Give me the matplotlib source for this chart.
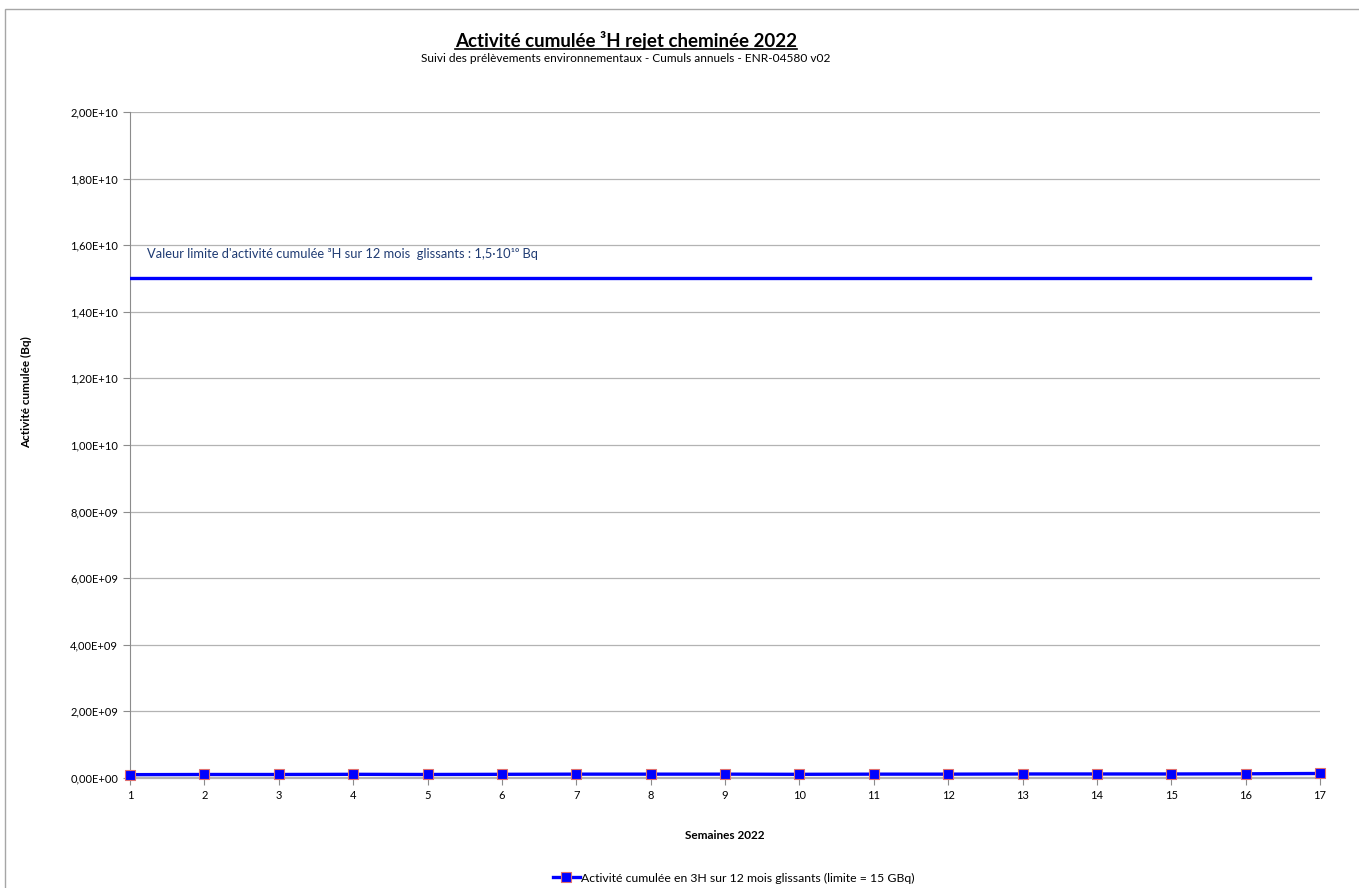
import numpy as np
import matplotlib.pyplot as plt
from matplotlib.lines import Line2D
from matplotlib.patches import Rectangle
from matplotlib.ticker import FuncFormatter

plt.rcParams['font.family'] = ['Lato', 'DejaVu Sans']

weeks = list(range(1, 18))
cumul = [1.00e8, 1.05e8, 1.05e8, 1.10e8, 1.05e8, 1.10e8, 1.15e8, 1.15e8, 1.15e8,
         1.10e8, 1.15e8, 1.15e8, 1.20e8, 1.20e8, 1.20e8, 1.25e8, 1.35e8]
limit = 1.5e10
y_ticks = np.arange(0, 2.01e10, 2e9)


def sci_fr(v, pos):
    s = f"{v:.2E}"
    mant, exp = s.split("E")
    return f"{mant.replace('.', ',')}E{exp[0]}{int(exp[1:]):02d}"


fig = plt.figure(figsize=(13.59, 8.88), dpi=100)
ax = fig.add_axes([0.0957, 0.1239, 0.8756, 0.75])

ax.axhline(limit, xmin=0, xmax=0.992, color='#0000FF', lw=2.4, zorder=3)
ax.text(1.23, 1.555e10, "Valeur limite d'activité cumulée ³H sur 12 mois  glissants : 1,5·10¹⁰ Bq",
        color='#1F3B73', fontsize=9.3, va='bottom', ha='left')

ax.plot(weeks, cumul, color='#0000FF', lw=2.4, marker='s', markersize=7,
        markerfacecolor='#0000FF', markeredgecolor='#E07070', markeredgewidth=0.8,
        clip_on=False, zorder=4, label='Activité cumulée en 3H sur 12 mois glissants (limite = 15 GBq)')

ax.set_xlim(1, 17)
ax.set_ylim(0, 2e10)
ax.set_xticks(weeks)
ax.set_yticks(y_ticks)
ax.yaxis.set_major_formatter(FuncFormatter(sci_fr))
ax.grid(axis='y', color='#B3B3B3', lw=0.9)
ax.set_axisbelow(True)
for s in ['top', 'right']:
    ax.spines[s].set_visible(False)
ax.spines['left'].set_color('#8C8C8C')
ax.spines['bottom'].set_color('#B3B3B3')
ax.spines['bottom'].set_linewidth(1.6)
ax.tick_params(axis='both', labelsize=8, color='#8C8C8C', length=5, width=0.8)
ax.tick_params(axis='x', pad=4)

ax.set_xlabel('Semaines 2022', fontsize=8.5, fontweight='bold')
ax.xaxis.set_label_coords(0.5, -0.078)
ax.set_ylabel('Activité cumulée (Bq)', fontsize=8.5, fontweight='bold')
ax.yaxis.set_label_coords(-0.082, 0.58)

title = fig.text(0.4606, 0.954, 'Activité cumulée ³H rejet cheminée 2022', ha='center', va='center',
                 fontsize=13.5, fontweight='bold')
fig.text(0.4606, 0.934, 'Suivi des prélèvements environnementaux - Cumuls annuels - ENR-04580 v02',
         ha='center', va='center', fontsize=8.6)

fig.legend(loc='center', bbox_to_anchor=(0.54, 0.011), frameon=False, fontsize=8.8,
           handlelength=2.2, handletextpad=0.1)

fig.add_artist(Rectangle((0.0037, -0.05), 1.2, 1.04, transform=fig.transFigure,
                         fill=False, edgecolor='#A6A6A6', lw=1))

fig.canvas.draw()
bb = title.get_window_extent(fig.canvas.get_renderer()).transformed(fig.transFigure.inverted())
fig.add_artist(Line2D([bb.x0, bb.x1], [bb.y0 + 0.001, bb.y0 + 0.001], transform=fig.transFigure,
                      color='black', lw=1.2))

fig.savefig('out.png', dpi=100)
